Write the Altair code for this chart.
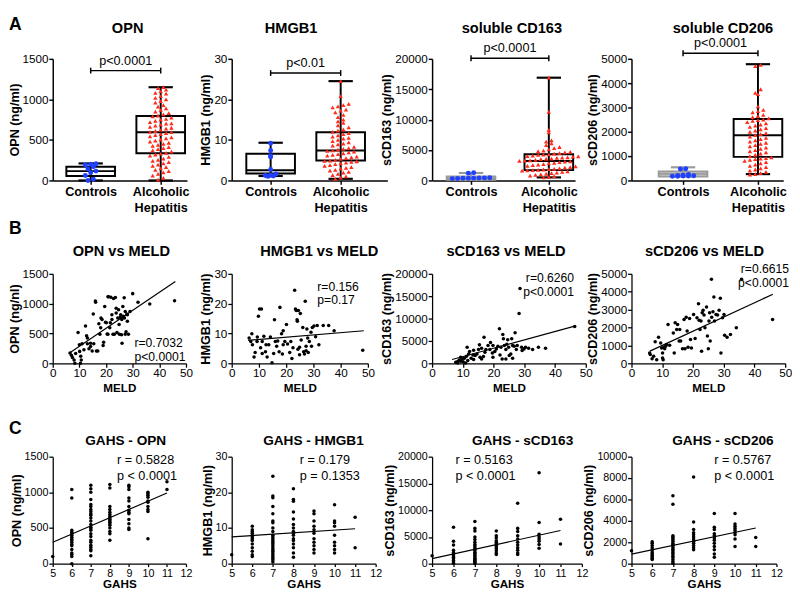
import altair as alt
import pandas as pd

FONT = "Liberation Sans"
BLUE = "#2040ff"
RED = "#ff2a1a"

# ---------------- Row A: box plots (Controls vs Alcoholic Hepatitis) ----------------
opn_ctrl = [205, 200, 190, 170, 140, 115, 95, 60, 15, 0]
opn_ah = [1150, 1140, 1120, 1100, 1080, 1070, 1040, 1020, 1000, 980, 960, 930, 910, 890, 870,
          850, 830, 815, 800, 790, 775, 760, 750, 735, 720, 705, 700, 690, 675, 660, 650, 640,
          625, 610, 600, 595, 585, 570, 560, 545, 530, 520, 505, 490, 480, 465, 450, 440, 425,
          410, 400, 385, 370, 355, 340, 330, 320, 305, 290, 270, 255, 240, 225, 210, 195, 180,
          165, 150, 130, 115, 100, 80, 60, 30, 10]
hmgb1_ctrl = [9.2, 7.4, 6.1, 5.8, 2.7, 1.6, 1.3, 1.2, 1.0, 1.1]
hmgb1_ah = [24.5, 20.8, 18.9, 18.6, 18.3, 18.0, 17.5, 17.2, 16.8, 16.2, 15.6, 15.0, 14.6, 14.2,
            13.6, 13.1, 12.6, 12.3, 12.0, 11.7, 11.4, 11.1, 10.8, 10.5, 10.3, 10.0, 9.7, 9.4,
            9.1, 8.9, 8.6, 8.3, 8.0, 7.8, 7.6, 7.4, 7.3, 7.1, 6.9, 6.7, 6.5, 6.3, 6.1, 5.9, 5.7,
            5.5, 5.3, 5.1, 4.9, 4.8, 4.7, 4.6, 4.4, 4.2, 4.0, 3.8, 3.6, 3.3, 3.1, 2.9, 2.6, 2.4,
            2.1, 1.9, 1.6, 1.3, 1.0, 0.7, 0.4]
scd163_ctrl = [1250, 1200, 450, 420, 400, 380, 360, 350, 330, 300]
scd163_ah = [16900, 11300, 8300, 7900, 6600, 6400, 6100, 5800, 5500, 5300, 5100, 4900, 4800,
             4700, 4600, 4500, 4400, 4300, 4250, 4200, 4100, 4000, 3950, 3900, 3800, 3750, 3700,
             3600, 3550, 3500, 3400, 3300, 3250, 3200, 3150, 3100, 3000, 2900, 2800, 2700, 2600,
             2500, 2400, 2300, 2200, 2100, 2000, 1900, 1850, 1800, 1750, 1700, 1650, 1600, 1500,
             1400, 1300, 1200, 1100, 1000, 900, 800, 700, 600, 500]
scd206_ctrl = [480, 470, 240, 210, 200, 190, 185, 180, 175, 170]
scd206_ah = [4750, 4700, 3750, 3600, 3550, 3050, 2900, 2850, 2800, 2700, 2650, 2600, 2550, 2500,
             2480, 2450, 2400, 2350, 2300, 2250, 2200, 2150, 2100, 2050, 2000, 1950, 1900, 1860,
             1800, 1750, 1700, 1650, 1600, 1550, 1500, 1450, 1400, 1350, 1300, 1250, 1200, 1150,
             1100, 1050, 1000, 950, 920, 900, 880, 850, 800, 750, 700, 650, 600, 550, 500, 450,
             400, 350, 300, 260, 240]

# box summaries: [min, q1, median, q3, max]
opn_ctrl_box = [0, 55, 115, 170, 210]
opn_ah_box = [0, 335, 595, 795, 1150]
hmgb1_ctrl_box = [1.1, 1.7, 2.5, 6.6, 9.3]
hmgb1_ah_box = [0.4, 4.9, 7.4, 11.9, 24.5]
scd163_ctrl_box = [100, 100, 380, 670, 1220]
scd163_ah_box = [500, 1700, 3200, 4300, 16900]
scd206_ctrl_box = [160, 165, 270, 370, 540]
scd206_ah_box = [260, 970, 1860, 2530, 4780]

a_titles = ["OPN", "HMGB1", "soluble CD163", "soluble CD206"]
a_ytitles = ["OPN (ng/ml)", "HMGB1 (ng/ml)", "sCD163 (ng/ml)", "sCD206 (ng/ml)"]
a_pvalues = ["p<0.0001", "p<0.01", "p<0.0001", "p<0.0001"]
a_brackets = [1355, 26.5, 20100, 5230]
a_ymax = [1500, 30, 20000, 5000]
a_yticks = [[0, 500, 1000, 1500], [0, 10, 20, 30], [0, 5000, 10000, 15000, 20000],
            [0, 1000, 2000, 3000, 4000, 5000]]

# ---------------- Row B: vs MELD ----------------
opn_meld = [(6.5, 174), (7, 136), (7.4, 98), (8, 54), (8.3, 0), (8.6, 163), (9.5, 516), (10, 310),
            (10.1, 200), (10.5, 120), (10.7, 54), (10.4, 0), (11, 326), (11.7, 228), (12.3, 625),
            (12.7, 462), (13, 424), (13.6, 245), (14.2, 337), (14.8, 206), (15.2, 826), (15.4, 326),
            (16, 1043), (16.1, 1022), (16.4, 206), (16.9, 206), (17.3, 663), (17.7, 489), (18.1, 760),
            (18.5, 734), (18.9, 300), (19.1, 353), (19.5, 951), (19.8, 690), (20.1, 680), (20.4, 490),
            (20.7, 1114), (21, 1114), (21.4, 598), (21.6, 680), (21.8, 1108), (22.2, 734), (22.6, 489),
            (22.8, 1087), (23.1, 489), (23.5, 1103), (23.8, 842), (24.1, 516), (24.4, 760), (24.7, 897),
            (25, 489), (25.3, 772), (25.5, 815), (25.8, 478), (26, 337), (26.3, 951), (26.5, 788),
            (26.8, 1098), (26.9, 760), (27.2, 489), (27.5, 527), (27.8, 826), (28, 706), (28.4, 489),
            (29, 870), (30, 1168), (32, 1022), (36.4, 995), (45.7, 1049), (13, 326), (14.2, 283),
            (18, 598), (20.7, 489), (22.2, 815), (23.8, 924), (25.9, 734), (27.2, 870), (24.9, 652),
            (28, 815)]
hmgb1_meld = [(6.4, 8.5), (7, 7.3), (7.4, 9.9), (7.6, 6.25), (8.2, 2.1), (8.6, 3.6), (9.4, 8.8),
              (9.8, 15.8), (10.2, 18.2), (10.9, 18.2), (10.6, 5.2), (11.2, 7.3), (11.8, 9.1),
              (12.4, 3.9), (12.6, 6.25), (13, 2.1), (14.2, 8.8), (14.8, 0.2), (15.7, 14.6), (16, 7.3),
              (16.5, 5.7), (16.9, 7.5), (17.4, 3.9), (17.7, 18.75), (18.3, 9.9), (18.6, 3.1),
              (18.9, 10.9), (19.5, 7.3), (20.1, 13), (20.5, 6.5), (21.3, 3.6), (22.1, 1.6), (22.5, 5.2),
              (23.1, 24.5), (23.4, 18.2), (23.7, 17.7), (24, 14.6), (24.1, 14.1), (24.3, 4.7),
              (24.5, 17.7), (24.9, 5.4), (25.2, 16.7), (25.5, 7.8), (26.1, 12), (26.4, 3.9),
              (26.7, 3.1), (27, 20.8), (27.3, 5.7), (27.6, 11.5), (27.9, 8.5), (28.1, 3.6), (28.5, 7.3),
              (29.1, 10.4), (29.3, 5.7), (29.6, 12), (30.2, 12.5), (30.8, 8.9), (31.4, 12.7), (32, 6.25),
              (33.6, 12.7), (35.6, 12.7), (37.6, 10.9), (48.1, 4.4), (9.3, 7.3), (11.2, 3.3),
              (13.6, 6.25), (15.4, 3.3), (18.9, 6.25), (21.7, 7.3), (24.9, 2.9), (27.3, 4.2)]
scd163_meld = [(8.2, 375), (8.8, 750), (9.3, 450), (9.8, 975), (9.3, 1350), (10.1, 375), (10.5, 1125),
               (11.2, 1575), (11.6, 600), (11.9, 2100), (11.4, 3600), (12.2, 2625), (12.7, 1125),
               (13.3, 1875), (13.5, 2925), (14, 1725), (14.6, 2100), (15.1, 3075), (15.4, 4120),
               (15.6, 1350), (16.1, 3375), (16.7, 1500), (16.9, 5850), (17.2, 2475), (17.5, 3075),
               (18.2, 3975), (18.8, 3075), (19, 4650), (19.6, 2325), (19.8, 3975), (20.4, 2625),
               (20.9, 3225), (21.4, 3825), (21.9, 7700), (22.1, 1875), (22.4, 3600), (22.8, 975),
               (23, 6450), (23.2, 5475), (23.5, 3975), (24, 3075), (24.3, 4275), (24.6, 5250),
               (24.9, 3600), (25.1, 1725), (25.6, 2100), (25.9, 5475), (26.2, 3975), (26.7, 3825),
               (27, 6825), (27.4, 3075), (27.7, 3975), (28.3, 11125), (28.6, 16700), (29.1, 3600),
               (29.3, 2850), (29.9, 3225), (30.4, 3600), (31.4, 3375), (32.7, 3075), (34.6, 3600),
               (36.9, 3375), (46.4, 8250), (7.7, 225), (8.4, 75), (10.9, 75), (13.5, 825), (16.1, 975),
               (19.8, 1350), (24, 975), (26.2, 1125)]
scd206_meld = [(5.9, 580), (6.1, 490), (6.7, 260), (7.2, 390), (7.7, 1200), (8.2, 205), (8.8, 1460),
               (9.5, 1140), (9.8, 860), (10.1, 580), (10.1, 300), (10.3, 205), (10.5, 900), (10.8, 820),
               (11.1, 955), (11.4, 1050), (11.9, 2170), (12.4, 1010), (13.6, 1700), (13.9, 580),
               (14.2, 2260), (14.7, 1890), (15, 2170), (15.5, 1240), (15.7, 1890), (16, 1240),
               (16.6, 820), (17.1, 2450), (17.4, 820), (17.8, 2580), (18.1, 1800), (18.4, 900),
               (18.9, 2510), (19.2, 1330), (19.5, 860), (20.2, 2730), (20.7, 1390), (21.3, 2550),
               (21.8, 3330), (22, 2400), (22.3, 1890), (22.6, 2360), (22.8, 670), (23, 2830),
               (23.3, 2960), (23.6, 2700), (23.9, 1990), (24.4, 3140), (24.7, 1520), (25, 820),
               (25.2, 2360), (25.4, 2830), (25.6, 1240), (26, 4700), (26.1, 2580), (26.5, 2880),
               (26.8, 3700), (27, 2360), (27.5, 2730), (28, 2700), (28.5, 2960), (28.9, 3630),
               (29.1, 580), (29.6, 2550), (30.1, 2730), (30.3, 1570), (31.1, 1460), (32.2, 1610),
               (34.1, 1990), (35.8, 4700), (45.9, 2450)]
# regression lines (end points)
meld_fit_x = [[6, 46], [6, 48.5], [6.5, 46.4], [6, 46]]
meld_fit_y = [[165, 1370], [7.7, 10.9], [850, 8300], [680, 3860]]
b_titles = ["OPN vs MELD", "HMGB1 vs MELD", "sCD163 vs MELD", "sCD206 vs MELD"]
b_ytitles = ["OPN (ng/nl)", "HMGB1 (ng/ml)", "sCD163 (ng/ml)", "sCD206 (ng/ml)"]
b_r = ["r=0.7032", "r=0.156", "r=0.6260", "r=0.6615"]
b_p = ["p<0.0001", "p=0.17", "p<0.0001", "p<0.0001"]

# ---------------- Row C: vs GAHS ----------------
gahs_opn = {5: [100], 6: [1040, 920, 470, 440, 420, 400, 370, 350, 330, 300, 270, 250, 200, 150, 130, 100, 0],
            7: [1100, 1050, 1000, 900, 830, 800, 760, 730, 700, 680, 640, 600, 550, 510, 490, 470, 420,
                380, 330, 300, 260, 230, 200, 180, 110],
            8: [1110, 1060, 800, 760, 720, 690, 660, 640, 620, 600, 580, 560, 540, 500, 450, 420, 330],
            9: [1100, 1080, 1040, 920, 880, 800, 750, 720, 700, 620, 560, 500, 480],
            10: [1000, 980, 960, 930, 880, 860, 800, 760, 730, 350], 11: [1150, 1040]}
gahs_hmgb1 = {5: [2.5], 6: [10.5, 9.5, 9, 8.5, 8, 7.5, 7, 6.5, 5.5, 4.5, 3.5, 2.5, 2],
              7: [24.5, 19, 18.5, 16, 14, 12, 11.5, 10, 9, 8, 7.5, 7, 6.5, 6, 5.5, 5, 4.5, 4, 3.5, 3,
                  2.5, 2, 1.5, 1, 0.5],
              8: [21, 18, 17.5, 14.5, 12.5, 11, 10, 9, 8.5, 8, 7, 6.5, 5.5, 4.5, 3, 1.8],
              9: [14.8, 14, 12, 10.5, 9.5, 8.5, 7, 6, 5, 4, 3],
              10: [16.5, 12, 11.5, 10.5, 8, 6, 5, 4, 3], 11: [13, 4.5]}
gahs_scd163 = {5: [1500], 6: [6800, 4200, 3500, 2500, 2100, 1800, 1500, 1200, 900, 600, 300, 100],
               7: [7900, 6600, 6100, 5000, 4500, 4000, 3600, 3300, 3000, 2700, 2400, 2100, 1900, 1600,
                   1300, 1000, 800, 600, 400, 200, 50],
               8: [6100, 5200, 4800, 4300, 4000, 3700, 3400, 3100, 2800, 2400, 2000, 1700],
               9: [11300, 6600, 6000, 5200, 4600, 4000, 3500, 3000, 2500, 2000, 1700],
               10: [17000, 7700, 5500, 5000, 4600, 4200, 3600, 2900], 11: [8300, 3700]}
gahs_scd206 = {5: [1200], 6: [2050, 1900, 1700, 1500, 1300, 1100, 950, 800, 650, 500, 400],
               7: [6350, 5550, 2600, 2500, 2400, 2250, 2100, 1900, 1800, 1650, 1500, 1350, 1200, 1050,
                   900, 750, 600, 400, 200, 50],
               8: [8100, 3900, 3200, 2900, 2700, 2500, 2300, 2100, 1900, 1700, 1500, 1300],
               9: [4700, 3400, 3200, 2800, 2600, 2400, 2200, 1900, 1600, 1300, 900, 600],
               10: [4700, 3700, 3500, 3300, 3100, 2900, 2700, 2300, 1600], 11: [2450, 1600]}
gahs_fit_x = [[5, 11], [5, 11], [5, 11], [5, 11]]
gahs_fit_y = [[300, 990], [7.5, 9.8], [950, 6200], [900, 3340]]
c_titles = ["GAHS - OPN", "GAHS - HMGB1", "GAHS - sCD163", "GAHS - sCD206"]
c_ytitles = ["OPN (ng/ml)", "HMGB1 (ng/ml)", "sCD163 (ng/ml)", "sCD206 (ng/ml)"]
c_r = ["r = 0.5828", "r = 0.179", "r = 0.5163", "r = 0.5767"]
c_p = ["p < 0.0001", "p = 0.1353", "p < 0.0001", "p < 0.0001"]
c_ymax = [1500, 30, 20000, 10000]
c_yticks = [[0, 500, 1000, 1500], [0, 10, 20, 30], [0, 5000, 10000, 15000, 20000],
            [0, 2000, 4000, 6000, 8000, 10000]]

# ---------------- layout (pixels) ----------------
layA = [dict(ax=53, ctrl=92, ah=164, end=191, tc=130),
        dict(ax=237, ctrl=277, ah=349, end=397, tc=298),
        dict(ax=443, ctrl=483, ah=563, end=590, tc=525),
        dict(ax=632, ctrl=685, ah=762, end=788, tc=726)]
layB = [dict(ax=53, end=190, tc=123.5, ann=("left", 84, 71, 86)),
        dict(ax=227, end=367, tc=317, ann=("left", 88, 14, 27)),
        dict(ax=424, end=582, tc=500, ann=("right", 146, 4, 19)),
        dict(ax=627, end=785, tc=702, ann=("right", 162, -5, 10))]
layC = [dict(ax=53, end=190, tc=128, ann=("left", 66, 4, 20)),
        dict(ax=225, end=373, tc=309, ann=("left", 70, 4, 20)),
        dict(ax=428, end=582, tc=521, ann=("left", 24, 4, 20)),
        dict(ax=633, end=782, tc=727, ann=("left", 85, 4, 20))]
for lay in (layA, layB, layC):
    for i, L in enumerate(lay):
        L["w"] = (lay[i + 1]["ax"] - L["ax"]) if i < 3 else (L["end"] - L["ax"])
H_A, H_B, H_C = 125, 92, 110


def yaxis(title, values, label_size=12, dw=1.5):
    return alt.Axis(title=title, values=values, format="d", grid=False, domainColor="black",
                    domainWidth=dw, tickColor="black", tickWidth=dw, tickSize=4, labelPadding=1,
                    titlePadding=1, labelFontSize=label_size, labelColor="black", titleFontSize=13,
                    titleFontWeight="bold", titleColor="black", labelOverlap=False, labelFlush=False)


def swarm(values, center, ymax, height, unit_px, step_px=5.5, bin_px=5.0):
    bin_val = ymax * bin_px / height
    bins = {}
    for v in sorted(values):
        bins.setdefault(int(v // bin_val), []).append(v)
    out = []
    for vs in bins.values():
        n = len(vs)
        for i, v in enumerate(vs):
            out.append({"x": center + (i - (n - 1) / 2) * step_px / unit_px, "y": v})
    return pd.DataFrame(out)


def label_layer(text, x, y, size, bold=True, align="center", baseline="middle"):
    return alt.Chart(pd.DataFrame({"t": [text]})).mark_text(
        fontSize=size, fontWeight="bold" if bold else "normal", align=align, baseline=baseline,
        color="black").encode(x=alt.value(x), y=alt.value(y), text="t:N")


def letter_layer(ch, y_top):
    return label_layer(ch, -45, y_top, 18, align="left", baseline="top")


def box_panel(i, ctrl, ah, cbox, abox, gray, letter=None):
    L = layA[i]
    ymax = a_ymax[i]
    unit = L["ah"] - L["ctrl"]
    xs = alt.Scale(domain=[(L["ax"] - L["ctrl"]) / unit, (L["end"] - L["ctrl"]) / unit],
                   range=[0, L["end"] - L["ax"]], nice=False, zero=False)
    ys = alt.Scale(domain=[0, ymax], nice=False, zero=False)
    bw, cw = 25 / unit, 12.5 / unit
    cstroke, cfill = ("#9a9a9a", "#d4d4d4") if gray else ("black", "white")
    rows = []
    for g, b, s, f in [(0, cbox, cstroke, cfill), (1, abox, "black", "white")]:
        rows.append(dict(x=g, xl=g - bw, xr=g + bw, cl=g - cw, cr=g + cw, mn=b[0], q1=b[1],
                         md=b[2], q3=b[3], mx=b[4], stroke=s, fill=f))
    st = pd.DataFrame(rows)
    xaxis = alt.Axis(values=[0, 1], title=None, grid=False, domainColor="black", domainWidth=1.5,
                     tickColor="black", tickWidth=1.5, tickSize=4, labelFontSize=13,
                     labelFontWeight="bold", labelColor="black", labelPadding=2, labelLineHeight=16,
                     labelFlush=False, labelOverlap=False,
                     labelExpr="datum.value == 0 ? 'Controls' : ['Alcoholic', 'Hepatitis']")
    ya = yaxis(a_ytitles[i], a_yticks[i])
    X = lambda f: alt.X(f, scale=xs, axis=xaxis)
    Y = lambda f: alt.Y(f, scale=ys, axis=ya)
    col = alt.Color("stroke:N", scale=None)
    box = alt.Chart(st).mark_rect(strokeWidth=2).encode(
        x=X("xl:Q"), x2="xr:Q", y=Y("q1:Q"), y2="q3:Q",
        fill=alt.Fill("fill:N", scale=None), stroke=alt.Stroke("stroke:N", scale=None))
    whisk = alt.Chart(st).mark_rule(strokeWidth=2).encode(x=X("x:Q"), y=Y("mn:Q"), y2="mx:Q", color=col)
    capt = alt.Chart(st).mark_rule(strokeWidth=2.2).encode(x=X("cl:Q"), x2="cr:Q", y=Y("mx:Q"), color=col)
    capb = alt.Chart(st).mark_rule(strokeWidth=2.2).encode(x=X("cl:Q"), x2="cr:Q", y=Y("mn:Q"), color=col)
    med = alt.Chart(st).mark_rule(strokeWidth=2).encode(x=X("xl:Q"), x2="xr:Q", y=Y("md:Q"), color=col)
    pc = alt.Chart(swarm(ctrl, 0, ymax, H_A, unit)).mark_point(
        shape="circle", filled=True, size=26, color=BLUE, opacity=1).encode(x=X("x:Q"), y=Y("y:Q"))
    pa = alt.Chart(swarm(ah, 1, ymax, H_A, unit)).mark_point(
        shape="triangle-up", filled=True, size=20, color=RED, opacity=1).encode(x=X("x:Q"), y=Y("y:Q"))
    b = a_brackets[i]
    d = 3 * ymax / H_A
    br = alt.Chart(pd.DataFrame({"x": [0], "x2": [1], "y": [b]})).mark_rule(
        strokeWidth=1.5, color="black").encode(x=X("x:Q"), x2="x2:Q", y=Y("y:Q"))
    bre = alt.Chart(pd.DataFrame({"x": [0, 1], "y": [b - d] * 2, "y2": [b + d] * 2})).mark_rule(
        strokeWidth=1.5, color="black").encode(x=X("x:Q"), y=Y("y:Q"), y2="y2:Q")
    pt = alt.Chart(pd.DataFrame({"x": [0.5], "y": [b], "t": [a_pvalues[i]]})).mark_text(
        fontSize=13, baseline="bottom", dy=-3, color="black").encode(x=X("x:Q"), y=Y("y:Q"), text="t:N")
    layers = [box, whisk, capt, capb, med, pc, pa, br, bre, pt,
              label_layer(a_titles[i], L["tc"] - L["ax"], -32, 15)]
    if letter:
        layers.append(letter_layer(letter, -44))
    return alt.layer(*layers).properties(width=L["w"], height=H_A)


def scatter_panel(L, pts, h, title, ytitle, yticks, ymax, xdom, xticks, xtitle, fx, fy, rt, pt,
                  title_y, title_size, lab_size, ann_size, point_size, x_tick, x_tpad,
                  letter=None, letter_y=0):
    xs = alt.Scale(domain=xdom, range=[0, L["end"] - L["ax"]], nice=False, zero=False)
    ys = alt.Scale(domain=[0, ymax], nice=False, zero=False)
    xaxis = alt.Axis(values=xticks, title=xtitle, grid=False, domainColor="black", domainWidth=1.3,
                     tickColor="black", tickWidth=1.3, tickSize=x_tick, labelFontSize=lab_size,
                     labelColor="black", labelPadding=1, titlePadding=x_tpad, titleFontSize=12,
                     titleFontWeight="bold", titleColor="black", labelFlush=False, labelOverlap=False)
    ya = yaxis(ytitle, yticks, lab_size, 1.3)
    df = pd.DataFrame(pts, columns=["x", "y"])
    p = alt.Chart(df).mark_circle(size=point_size, color="black", opacity=1).encode(
        x=alt.X("x:Q", scale=xs, axis=xaxis), y=alt.Y("y:Q", scale=ys, axis=ya))
    fit = alt.Chart(pd.DataFrame({"x": fx, "y": fy})).mark_line(color="black", strokeWidth=1.2).encode(
        x=alt.X("x:Q", scale=xs, axis=xaxis), y=alt.Y("y:Q", scale=ys, axis=ya))
    align, ax_, ry, py = L["ann"]
    layers = [p, fit,
              label_layer(rt, ax_, ry, ann_size, bold=False, align=align),
              label_layer(pt, ax_, py, ann_size, bold=False, align=align),
              label_layer(title, L["tc"] - L["ax"], title_y, title_size)]
    if letter:
        layers.append(letter_layer(letter, letter_y))
    return alt.layer(*layers).properties(width=L["w"], height=h)


panels = [
    box_panel(0, opn_ctrl, opn_ah, opn_ctrl_box, opn_ah_box, False, "A"),
    box_panel(1, hmgb1_ctrl, hmgb1_ah, hmgb1_ctrl_box, hmgb1_ah_box, False),
    box_panel(2, scd163_ctrl, scd163_ah, scd163_ctrl_box, scd163_ah_box, True),
    box_panel(3, scd206_ctrl, scd206_ah, scd206_ctrl_box, scd206_ah_box, True),
]
meld_sets = [opn_meld, hmgb1_meld, scd163_meld, scd206_meld]
for i in range(4):
    panels.append(scatter_panel(
        layB[i], meld_sets[i], H_B, b_titles[i], b_ytitles[i], a_yticks[i], a_ymax[i], [0, 50],
        [0, 10, 20, 30, 40, 50], "MELD", meld_fit_x[i], meld_fit_y[i], b_r[i], b_p[i],
        -23, 15, 12, 12.5, 13, 4, 4, "B" if i == 0 else None, -55))
gahs_sets = [gahs_opn, gahs_hmgb1, gahs_scd163, gahs_scd206]
for i in range(4):
    pts = [(g, v) for g, vs in gahs_sets[i].items() for v in vs]
    panels.append(scatter_panel(
        layC[i], pts, H_C, c_titles[i], c_ytitles[i], c_yticks[i], c_ymax[i], [5, 12],
        [5, 6, 7, 8, 9, 10, 11, 12], "GAHS", gahs_fit_x[i], gahs_fit_y[i], c_r[i], c_p[i],
        -16, 14, 11, 13, 13, 3, 1, "C" if i == 0 else None, -37))

chart = alt.concat(*panels, columns=4, spacing={"row": 96, "column": 0}, bounds="flush",
                   align="none").properties(
    padding={"left": 0, "top": 0, "right": 0, "bottom": 0}
).configure_view(stroke=None).configure_axis(
    labelFont=FONT, titleFont=FONT).configure_text(font=FONT)

chart.save("out.html", embed_options={"renderer": "svg", "actions": False})
